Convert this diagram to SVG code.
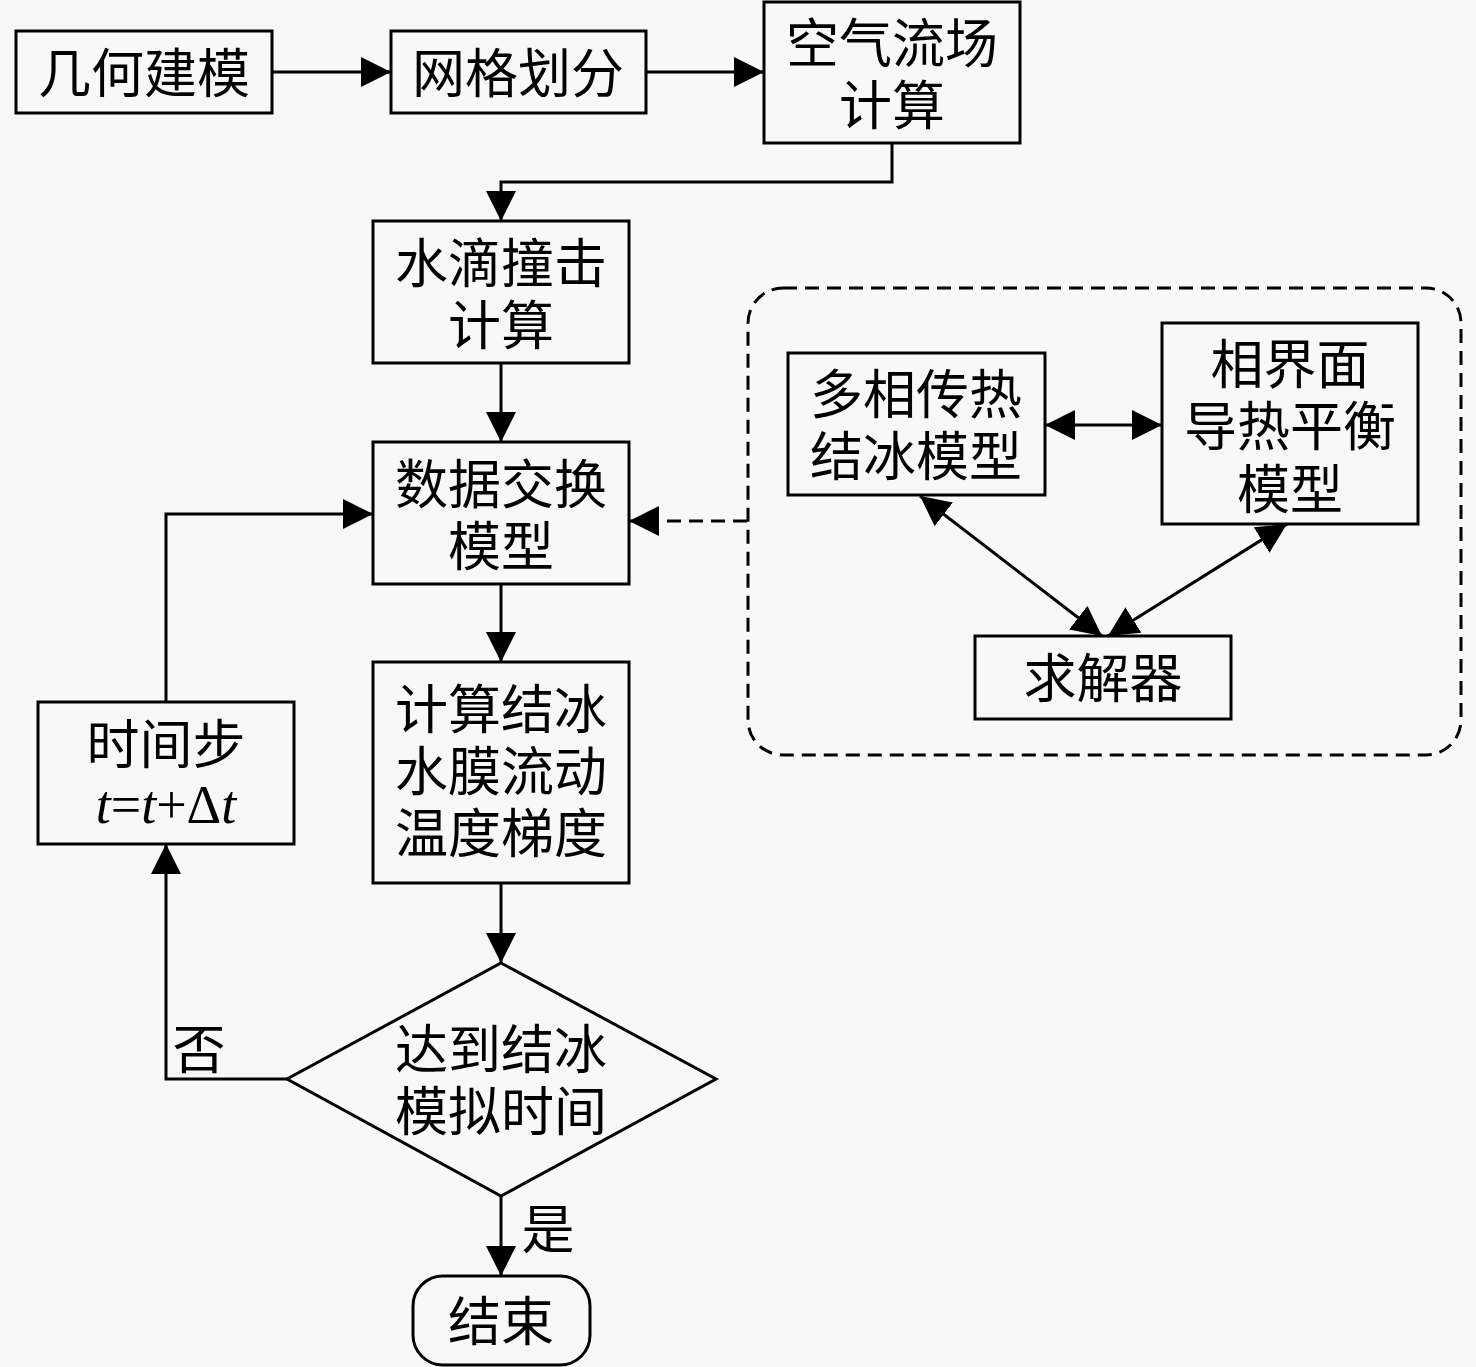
<svg xmlns="http://www.w3.org/2000/svg" width="1476" height="1367" viewBox="0 0 1476 1367">
<defs>
<style>
.box{fill:none;stroke:#000;stroke-width:3}
.ln{fill:none;stroke:#000;stroke-width:3}
.dash{fill:none;stroke:#000;stroke-width:3;stroke-dasharray:14 8}
.t{font-family:"Noto Sans CJK SC","Liberation Serif",sans-serif;font-size:53px;fill:#000;text-anchor:middle;dominant-baseline:central}
.m{font-family:"Liberation Serif",serif;font-size:54px;fill:#000;text-anchor:middle;dominant-baseline:central}
</style>
<marker id="ah" viewBox="0 0 30 30" refX="30" refY="15" markerWidth="30" markerHeight="30" markerUnits="userSpaceOnUse" orient="auto-start-reverse">
<path d="M0,0 L30,15 L0,30 z" fill="#000"/>
</marker>
</defs>
<rect width="1476" height="1367" fill="#f8f8f8"/>

<g id="connectors">
<line class="ln" x1="272" y1="72" x2="391" y2="72" marker-end="url(#ah)"/>
<line class="ln" x1="646" y1="72" x2="764" y2="72" marker-end="url(#ah)"/>
<polyline class="ln" points="892,143 892,182 501,182 501,221" marker-end="url(#ah)"/>
<line class="ln" x1="501" y1="363" x2="501" y2="442" marker-end="url(#ah)"/>
<line class="ln" x1="501" y1="584" x2="501" y2="662" marker-end="url(#ah)"/>
<line class="ln" x1="501" y1="883" x2="501" y2="963" marker-end="url(#ah)"/>
<line class="ln" x1="501" y1="1196" x2="501" y2="1276" marker-end="url(#ah)"/>
<polyline class="ln" points="287,1079 166,1079 166,844" marker-end="url(#ah)"/>
<polyline class="ln" points="166,702 166,514 373,514" marker-end="url(#ah)"/>
<line class="dash" x1="747" y1="521" x2="629" y2="521" marker-end="url(#ah)"/>
<line class="ln" x1="1045" y1="425" x2="1162" y2="425" marker-start="url(#ah)" marker-end="url(#ah)"/>
<line class="ln" x1="920" y1="496" x2="1102" y2="636" marker-start="url(#ah)" marker-end="url(#ah)"/>
<line class="ln" x1="1287" y1="524" x2="1108" y2="636" marker-start="url(#ah)" marker-end="url(#ah)"/>
</g>

<g id="group-dashed">
<rect class="dash" x="748" y="288" width="713" height="467" rx="35" ry="35"/>
</g>

<g id="n-geom">
<rect class="box" x="16" y="31" width="256" height="82"/>
<text class="t" x="144" y="70">几何建模</text>
</g>
<g id="n-mesh">
<rect class="box" x="391" y="31" width="255" height="82"/>
<text class="t" x="518" y="70">网格划分</text>
</g>
<g id="n-air">
<rect class="box" x="764" y="2" width="256" height="141"/>
<text class="t" x="892" y="40">空气流场</text>
<text class="t" x="892" y="102">计算</text>
</g>
<g id="n-drop">
<rect class="box" x="373" y="221" width="256" height="142"/>
<text class="t" x="501" y="260">水滴撞击</text>
<text class="t" x="501" y="322">计算</text>
</g>
<g id="n-data">
<rect class="box" x="373" y="442" width="256" height="142"/>
<text class="t" x="501" y="481">数据交换</text>
<text class="t" x="501" y="543">模型</text>
</g>
<g id="n-calc">
<rect class="box" x="373" y="662" width="256" height="221"/>
<text class="t" x="501" y="706">计算结冰</text>
<text class="t" x="501" y="768">水膜流动</text>
<text class="t" x="501" y="830">温度梯度</text>
</g>
<g id="n-step">
<rect class="box" x="38" y="702" width="256" height="142"/>
<text class="t" x="166" y="741">时间步</text>
<text class="m" x="166" y="805"><tspan font-style="italic">t</tspan>=<tspan font-style="italic">t</tspan>+Δ<tspan font-style="italic">t</tspan></text>
</g>
<g id="n-decision">
<polygon class="box" points="501,963 716,1079 501,1196 287,1079"/>
<text class="t" x="501" y="1046">达到结冰</text>
<text class="t" x="501" y="1108">模拟时间</text>
</g>
<g id="n-end">
<rect class="box" x="413" y="1276" width="177" height="89" rx="30" ry="30"/>
<text class="t" x="501" y="1318">结束</text>
</g>
<g id="n-multi">
<rect class="box" x="788" y="353" width="257" height="142"/>
<text class="t" x="916" y="391">多相传热</text>
<text class="t" x="916" y="453">结冰模型</text>
</g>
<g id="n-interface">
<rect class="box" x="1162" y="323" width="256" height="201"/>
<text class="t" x="1290" y="361">相界面</text>
<text class="t" x="1290" y="423">导热平衡</text>
<text class="t" x="1290" y="486">模型</text>
</g>
<g id="n-solver">
<rect class="box" x="975" y="636" width="256" height="83"/>
<text class="t" x="1103" y="675">求解器</text>
</g>
<g id="labels">
<text class="t" x="199" y="1046">否</text>
<text class="t" x="548" y="1226">是</text>
</g>
</svg>
